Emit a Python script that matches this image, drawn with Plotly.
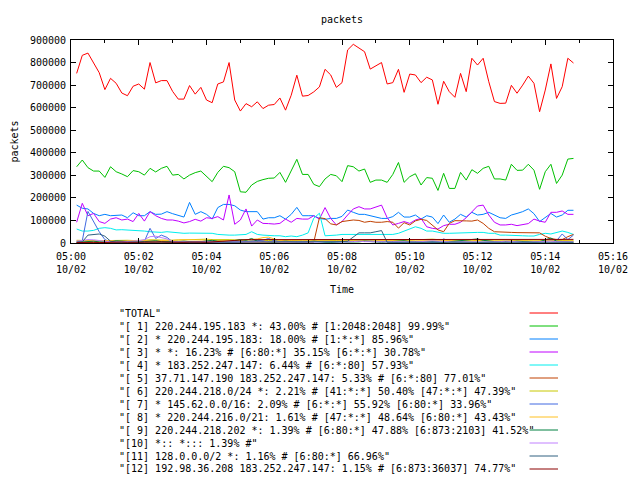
import numpy as np
import pandas as pd
import plotly.graph_objects as go

# sample times (every 10 s)
times = pd.date_range("2009-10-02 05:00:10", periods=89, freq="10s")

# values in thousands of packets
total = [752, 832, 842, 795, 755, 680, 730, 708, 665, 653,
         695, 705, 682, 800, 710, 720, 720, 672, 638, 638,
         698, 660, 690, 634, 622, 705, 714, 800, 634, 585,
         618, 604, 626, 596, 611, 614, 643, 589, 655, 744,
         651, 654, 670, 692, 770, 745, 690, 711, 856, 881,
         863, 848, 771, 786, 800, 705, 711, 770, 668, 749,
         745, 711, 735, 723, 615, 717, 671, 646, 752, 671,
         819, 789, 819, 715, 627, 619, 620, 699, 664, 700,
         740, 708, 582, 678, 794, 641, 693, 819, 798]
s1 = [338, 368, 334, 319, 319, 291, 338, 316, 306, 294,
      321, 316, 301, 331, 315, 331, 340, 301, 304, 284,
      301, 312, 319, 297, 272, 313, 340, 334, 316, 227,
      225, 257, 273, 281, 287, 288, 313, 269, 319, 371,
      304, 304, 260, 250, 284, 304, 298, 272, 343, 338,
      319, 328, 269, 279, 279, 269, 304, 357, 269, 294,
      307, 257, 290, 287, 233, 309, 242, 242, 313, 279,
      325, 309, 331, 340, 284, 284, 279, 349, 322, 323,
      349, 323, 238, 316, 349, 264, 301, 372, 375]
s2 = [168, 154, 151, 131, 121, 127, 121, 124, 124, 112,
      134, 121, 121, 139, 127, 128, 139, 130, 121, 115,
      180, 127, 139, 127, 106, 157, 171, 171, 165, 146,
      139, 139, 139, 106, 112, 112, 121, 106, 127, 158,
      121, 121, 121, 109, 105, 109, 109, 118, 146, 136,
      127, 127, 121, 112, 109, 109, 117, 136, 115, 115,
      124, 106, 121, 115, 86, 124, 92, 106, 127, 115,
      136, 124, 127, 136, 124, 112, 109, 124, 131, 139,
      151, 130, 95, 112, 131, 115, 124, 145, 145]
s3 = [92, 176, 121, 131, 95, 87, 106, 112, 102, 106,
      95, 131, 97, 139, 121, 109, 102, 102, 97, 89,
      95, 105, 97, 112, 109, 117, 102, 213, 83, 102,
      151, 75, 102, 87, 86, 84, 87, 106, 92, 109,
      106, 106, 121, 106, 157, 109, 80, 95, 124, 151,
      161, 151, 151, 161, 168, 112, 80, 87, 95, 87,
      102, 109, 72, 65, 62, 77, 83, 83, 92, 112,
      136, 164, 168, 124, 92, 80, 80, 83, 77, 83,
      86, 106, 97, 92, 136, 136, 142, 127, 127]
s4 = [62, 53, 53, 56, 65, 68, 65, 58, 59, 58,
      56, 53, 53, 50, 47, 47, 50, 47, 44, 43,
      44, 43, 43, 43, 43, 38, 35, 35, 35, 38,
      38, 50, 38, 35, 32, 32, 32, 28, 31, 28,
      35, 45, 110, 132, 32, 32, 35, 38, 38, 38,
      35, 35, 35, 35, 35, 35, 38, 43, 53, 65,
      72, 65, 53, 53, 47, 43, 43, 44, 47, 47,
      47, 47, 47, 43, 43, 35, 35, 35, 35, 32,
      31, 31, 38, 43, 40, 47, 53, 47, 38]
s5 = [3, 3, 4, 3, 2, 3, 4, 3, 2, 3,
      3, 4, 3, 2, 3, 4, 3, 2, 3, 3,
      4, 3, 2, 3, 4, 3, 2, 3, 3, 4,
      3, 2, 3, 4, 3, 2, 3, 3, 4, 3,
      2, 3, 4, 112, 108, 85, 80, 95, 98, 102,
      100, 92, 96, 92, 92, 95, 92, 66, 90, 80,
      98, 105, 100, 80, 58, 50, 87, 99, 100, 98,
      97, 102, 87, 65, 50, 48, 47, 47, 46, 46,
      47, 46, 45, 30, 20, 15, 15, 28, 38]
s6 = [12, 11, 13, 12, 10, 9, 11, 12, 13, 12,
      11, 10, 12, 14, 13, 12, 11, 12, 13, 14,
      15, 16, 18, 17, 15, 16, 17, 15, 14, 13,
      12, 14, 13, 12, 11, 12, 13, 12, 11, 10,
      12, 13, 12, 11, 10, 9, 11, 12, 13, 12,
      11, 10, 12, 13, 15, 14, 12, 11, 13, 12,
      14, 16, 18, 17, 15, 13, 12, 11, 12, 13,
      12, 11, 10, 12, 13, 14, 13, 12, 11, 10,
      12, 13, 12, 11, 9, 10, 11, 12, 10]
s7 = [5, 10, 140, 95, 50, 15, 5, 4, 3, 3,
      3, 4, 8, 65, 20, 35, 25, 5, 4, 3,
      3, 4, 5, 6, 5, 4, 3, 3, 4, 5,
      6, 8, 10, 12, 20, 10, 6, 5, 4, 3,
      4, 5, 6, 5, 4, 3, 4, 5, 6, 8,
      10, 12, 10, 8, 6, 5, 4, 3, 4, 5,
      8, 6, 5, 4, 6, 18, 10, 8, 6, 5,
      4, 3, 4, 5, 6, 8, 10, 8, 6, 5,
      4, 5, 6, 8, 12, 10, 40, 15, 35]
s8 = [10, 9, 8, 9, 10, 11, 12, 11, 10, 9,
      10, 11, 12, 13, 12, 11, 10, 12, 14, 16,
      15, 14, 13, 12, 11, 10, 9, 10, 11, 12,
      13, 14, 18, 24, 26, 18, 12, 10, 9, 8,
      9, 10, 11, 10, 9, 8, 9, 10, 11, 10,
      9, 8, 9, 10, 11, 12, 11, 10, 9, 8,
      9, 10, 11, 12, 13, 12, 11, 10, 9, 8,
      9, 10, 11, 10, 9, 8, 9, 10, 11, 10,
      9, 8, 9, 10, 11, 10, 9, 8, 9]
s9 = [3, 4, 6, 8, 5, 4, 6, 10, 8, 6,
      5, 4, 6, 8, 10, 6, 5, 4, 6, 8,
      5, 4, 6, 10, 12, 8, 6, 5, 10, 15,
      12, 20, 8, 6, 5, 4, 6, 8, 6, 5,
      4, 6, 8, 5, 4, 3, 5, 6, 4, 3,
      5, 8, 6, 4, 3, 5, 6, 8, 10, 6,
      4, 3, 5, 6, 4, 3, 5, 8, 10, 12,
      15, 18, 12, 8, 6, 5, 4, 6, 8, 6,
      5, 4, 6, 15, 22, 8, 6, 5, 4]
s10 = [8, 12, 15, 14, 10, 6, 5, 4, 5, 6,
       8, 10, 15, 28, 30, 25, 18, 6, 5, 4,
       4, 5, 6, 5, 4, 4, 5, 6, 5, 4,
       4, 5, 6, 8, 6, 5, 4, 4, 5, 6,
       5, 4, 4, 5, 6, 5, 4, 4, 5, 6,
       8, 6, 5, 4, 4, 5, 6, 5, 4, 4,
       5, 6, 8, 10, 8, 6, 5, 4, 4, 5,
       6, 5, 4, 4, 5, 6, 8, 6, 5, 4,
       4, 5, 6, 10, 8, 6, 5, 4, 5]
s11 = [4, 5, 35, 38, 40, 30, 8, 4, 3, 3,
       3, 3, 4, 5, 5, 4, 3, 3, 3, 3,
       3, 3, 3, 3, 3, 3, 3, 3, 3, 3,
       3, 3, 3, 3, 3, 3, 3, 3, 3, 3,
       3, 3, 3, 3, 3, 4, 5, 6, 8, 25,
       45, 45, 45, 50, 55, 3, 3, 3, 3, 3,
       3, 3, 3, 3, 3, 3, 3, 3, 3, 3,
       3, 3, 3, 3, 3, 3, 3, 3, 3, 3,
       3, 3, 3, 3, 3, 3, 3, 3, 3]
s12 = [2, 3, 4, 3, 2, 3, 4, 5, 4, 3,
       2, 3, 4, 5, 6, 5, 4, 3, 2, 3,
       4, 5, 4, 3, 5, 8, 10, 12, 13, 14,
       15, 15, 15, 15, 15, 15, 15, 15, 15, 16,
       16, 16, 16, 16, 16, 16, 16, 16, 16, 16,
       16, 16, 16, 16, 16, 16, 16, 16, 16, 16,
       16, 16, 16, 16, 16, 16, 16, 15, 15, 15,
       15, 15, 15, 15, 15, 15, 15, 15, 15, 15,
       15, 15, 15, 15, 15, 15, 16, 16, 16]

series_values = [total, s1, s2, s3, s4, s5, s6, s7, s8, s9, s10, s11, s12]
series_names = [
    '"TOTAL"',
    '"[ 1] 220.244.195.183 *: 43.00% # [1:2048:2048] 99.99%"',
    '"[ 2] * 220.244.195.183: 18.00% # [1:*:*] 85.96%"',
    '"[ 3] * *: 16.23% # [6:80:*] 35.15% [6:*:*] 30.78%"',
    '"[ 4] * 183.252.247.147: 6.44% # [6:*:80] 57.93%"',
    '"[ 5] 37.71.147.190 183.252.247.147: 5.33% # [6:*:80] 77.01%"',
    '"[ 6] 220.244.218.0/24 *: 2.21% # [41:*:*] 50.40% [47:*:*] 47.39%"',
    '"[ 7] * 145.62.0.0/16: 2.09% # [6:*:*] 55.92% [6:80:*] 33.96%"',
    '"[ 8] * 220.244.216.0/21: 1.61% # [47:*:*] 48.64% [6:80:*] 43.43%"',
    '"[ 9] 220.244.218.202 *: 1.39% # [6:80:*] 47.88% [6:873:2103] 41.52%"',
    '"[10] *:: *::: 1.39% #"',
    '"[11] 128.0.0.0/2 *: 1.16% # [6:80:*] 66.96%"',
    '"[12] 192.98.36.208 183.252.247.147: 1.15% # [6:873:36037] 74.77%"',
]
series_colors = ["#ff0000", "#00c000", "#0080ff", "#c000ff", "#00eeee", "#c04000",
                 "#c8c800", "#4169e1", "#ffc020", "#008040", "#c080ff", "#306080",
                 "#8b0000"]

tick_times = pd.date_range("2009-10-02 05:00", "2009-10-02 05:16", freq="2min")
tick_labels = ["05:00<br>10/02", "05:02<br>10/02", "05:04<br>10/02", "05:06<br>10/02",
               "05:08<br>10/02", "05:10<br>10/02", "05:12<br>10/02", "05:14<br>10/02",
               "05:16<br>10/02"]

FONT = "DejaVu Sans Mono"
OFF = 8                      # default page body margin of the browser
W, H = 640 - OFF, 480 - OFF  # figure size so that the page is filled exactly
L, R, T, B = 71, 623, 40, 243  # plot area in page pixels
pw, ph = R - L, B - T

def px(x):
    return (x - L) / pw

def py(y):
    return (B - y) / ph

fig = go.Figure()
for name, vals, col in zip(series_names, series_values, series_colors):
    fig.add_trace(go.Scatter(x=times, y=np.array(vals) * 1000, mode="lines",
                             line=dict(color=col, width=1), name=name,
                             showlegend=False, hoverinfo="skip"))

axis_common = dict(showline=True, linecolor="black", linewidth=1, mirror="allticks",
                   ticks="inside", ticklen=5, tickcolor="black", showgrid=False,
                   zeroline=False, tickfont=dict(family=FONT, size=10, color="black"))

fig.update_layout(
    width=W, height=H, autosize=False,
    margin=dict(l=L - OFF, r=W - (R - OFF), t=T - OFF, b=H - (B - OFF), pad=0),
    paper_bgcolor="white", plot_bgcolor="white",
    font=dict(family=FONT, size=10, color="black"),
    showlegend=False,
    xaxis=dict(type="date", range=["2009-10-02 05:00", "2009-10-02 05:16"],
               tickvals=tick_times, ticktext=tick_labels, ticklabelstandoff=4,
               minor=dict(ticks="inside", ticklen=3, dtick=60000,
                          tick0="2009-10-02 05:00", tickcolor="black"),
               **axis_common),
    yaxis=dict(range=[0, 900000], dtick=100000, tick0=0, tickformat="d",
               ticklabelstandoff=2, **axis_common),
)

annotations = [
    dict(text="packets", x=0.5, y=py(19), xref="paper", yref="paper",
         showarrow=False, xanchor="center", yanchor="middle"),
    dict(text="Time", x=0.5, y=py(289), xref="paper", yref="paper",
         showarrow=False, xanchor="center", yanchor="middle"),
    dict(text="packets", x=px(13), y=0.5, xref="paper", yref="paper",
         showarrow=False, xanchor="center", yanchor="middle", textangle=-90),
]
shapes = []
for i, (name, col) in enumerate(zip(series_names, series_colors)):
    yy = 313 + 13 * i
    annotations.append(dict(text=name, x=px(118), y=py(yy), xref="paper", yref="paper",
                            showarrow=False, xanchor="left", yanchor="middle"))
    shapes.append(dict(type="line", xref="paper", yref="paper",
                       x0=px(538), x1=px(567), y0=py(yy), y1=py(yy),
                       line=dict(color=col, width=1)))
fig.update_layout(annotations=annotations, shapes=shapes)

fig.write_html("out.html",
               config=dict(responsive=False, displayModeBar=False, staticPlot=True))
